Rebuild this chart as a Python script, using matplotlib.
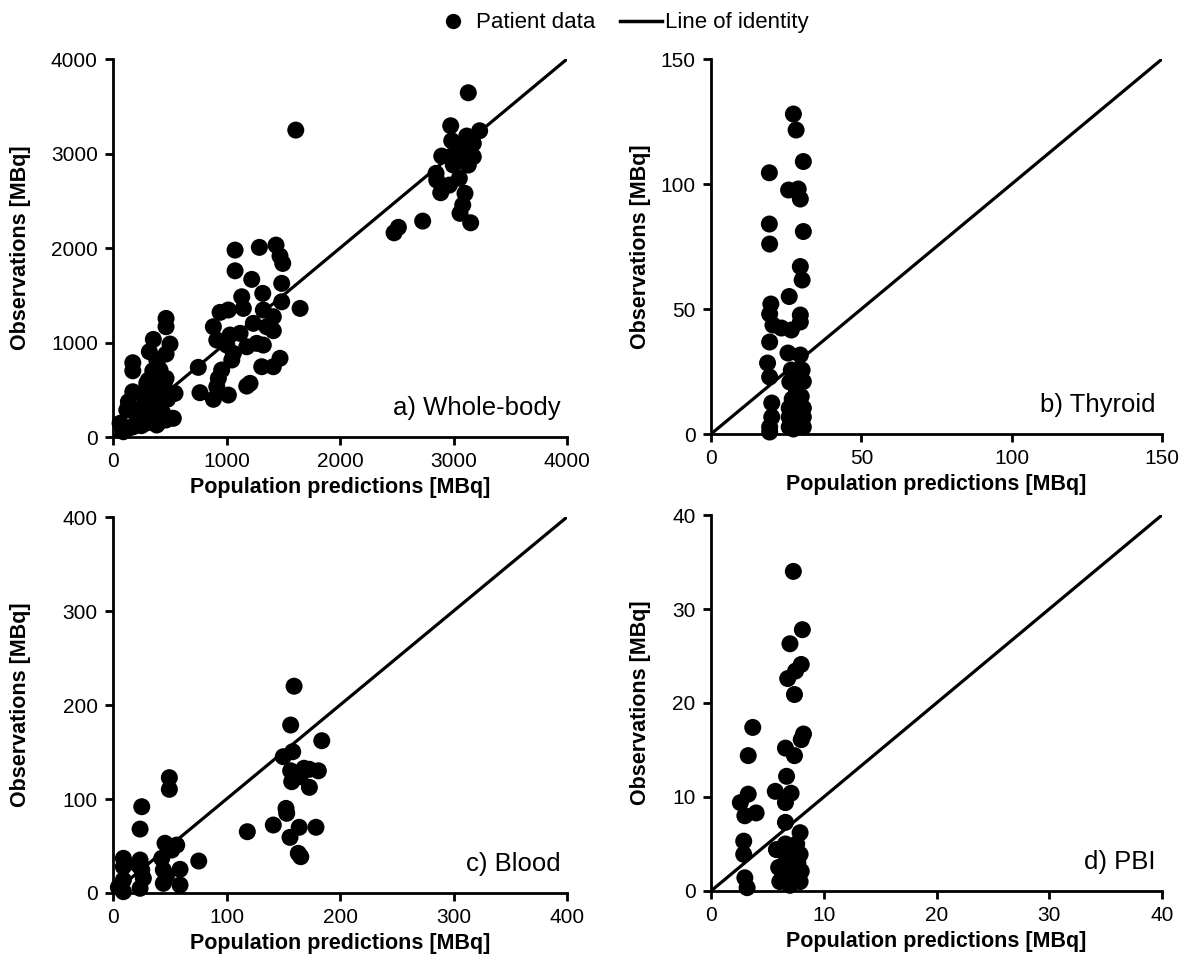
import numpy as np
import matplotlib.pyplot as plt
from matplotlib.lines import Line2D

plt.rcParams['font.family'] = ['Liberation Sans', 'DejaVu Sans']

# Panel a) Whole-body: population predictions vs observations [MBq]
wb_pred = [3130, 1610, 2975, 3230, 2984, 3116, 3174, 3057, 2896, 2969, 3072, 3174, 2998, 3130,
           2846, 2852, 3051, 2963, 2887, 3101, 3081, 3057, 3151, 2728, 2514, 2476,
           1075, 1289, 1436, 1471, 1495, 1075, 1222, 1486, 1319, 1134, 1486, 1648, 943, 1016,
           1148, 1324, 1412, 884, 1236, 1354, 1412, 1031, 1119, 914, 1002, 1178, 1266, 1324,
           1060, 1046, 1471, 1412, 1310, 957, 751, 928, 914, 1178, 1207, 766, 884, 1016,
           467, 467, 355, 502, 320, 467, 174, 174, 385, 414, 297, 174, 467, 341, 546,
           135, 121, 267, 414, 238, 326, 531, 62, 91, 179, 385, 467,
           300, 350, 400, 380, 320, 420, 260, 350, 420, 300, 400, 250, 200, 450, 330, 440,
           280, 360, 230, 150, 480, 390, 310, 430]
wb_obs = [3643, 3248, 3294, 3241, 3135, 3185, 3107, 3054, 2973, 2966, 2966, 2966, 2878, 2878,
          2790, 2719, 2738, 2666, 2585, 2578, 2455, 2367, 2267, 2285, 2219, 2161,
          1978, 2007, 2031, 1915, 1837, 1759, 1668, 1626, 1520, 1484, 1431, 1361, 1319, 1344,
          1361, 1344, 1273, 1167, 1203, 1167, 1125, 1079, 1097, 1026, 973, 955, 991, 973,
          885, 815, 833, 744, 744, 709, 737, 621, 532, 539, 568, 469, 399, 444,
          1255, 1167, 1033, 984, 903, 878, 786, 701, 815, 709, 568, 479, 621, 462, 462,
          373, 286, 321, 286, 215, 180, 198, 145, 56, 109, 127, 180,
          300, 400, 500, 600, 200, 350, 450, 700, 650, 150, 150, 120, 250, 550, 520, 250,
          420, 280, 180, 100, 400, 760, 600, 440]

# Panel b) Thyroid
th_pred = [27.4, 28.3, 30.7, 19.4, 25.8, 29.0, 29.7, 19.4, 19.5, 30.7, 29.7, 30.3, 26.0, 19.9,
           19.5, 29.7, 20.6, 23.4, 26.7, 29.7, 19.5, 25.6, 29.7, 18.8, 19.5, 26.7, 30.3, 26.2,
           30.7, 28.4, 20.2, 26.0, 30.7, 20.2, 26.0, 30.7, 19.5, 26.0, 30.7, 19.5, 27.4,
           27.0, 29.0, 28.0, 30.0, 27.5]
th_obs = [128, 121.6, 109, 104.5, 97.6, 98, 94, 84, 76, 81, 67, 61.6, 55, 52,
          48, 47.6, 43.6, 42.4, 41.6, 44.8, 36.8, 32.4, 31.6, 28.4, 22.8, 25.6, 25.6, 20.8,
          21, 17.6, 12.4, 10.4, 10.4, 6.8, 6.8, 6.8, 2.8, 2.8, 2.8, 0.8, 2.0,
          14.0, 12.0, 24.0, 15.0, 5.0]

# Panel c) Blood
bl_pred = [159.5, 156.5, 183.9, 158.3, 150.0, 156.5, 168.3, 173.0, 180.9, 157.4, 164.7, 173.0,
           152.4, 153.0, 141.2, 164.0, 178.8, 155.9, 163.2, 165.4, 118.3, 75.5,
           49.6, 49.6, 25.3, 23.8, 45.8, 56.1, 51.7, 42.9, 44.3, 59.0, 44.3, 59.0,
           9.1, 9.1, 23.8, 25.3, 26.7, 9.1, 9.1, 23.8, 4.7, 47.0, 22.0]
bl_obs = [220, 178.7, 162, 150.3, 145, 130, 132.7, 131.6, 130, 118.4, 123.7, 112.4,
          90, 84.8, 72.3, 69.9, 69.9, 59.2, 42.2, 38.6, 65.2, 34,
          122.7, 110.3, 91.8, 68, 52.9, 51, 45.7, 36.9, 24.5, 25.2, 10.3, 8.5,
          36.9, 28, 35.1, 24.5, 15.6, 13.8, 1.4, 5, 6, 18, 30]

# Panel d) PBI
pbi_pred = [7.3, 8.1, 7.0, 8.0, 7.5, 6.8, 7.4, 3.7, 8.2, 8.0, 6.6, 7.4, 3.3, 6.7, 5.7, 7.1,
            6.6, 3.3, 2.6, 3.0, 4.0, 6.6, 7.9, 2.9, 2.9, 5.8, 6.6, 7.6, 7.9, 6.7, 6.0, 7.3,
            8.0, 3.0, 3.2, 6.1, 7.0, 7.9, 7.2, 6.8, 7.7]
pbi_obs = [34, 27.8, 26.3, 24.1, 23.4, 22.6, 20.9, 17.4, 16.7, 16.1, 15.2, 14.4, 14.4, 12.2,
           10.6, 10.4, 9.4, 10.3, 9.4, 8.0, 8.3, 7.3, 6.2, 5.3, 3.9, 4.4, 5.0, 5.0, 3.9, 3.5,
           2.5, 2.5, 2.1, 1.4, 0.35, 1.0, 0.6, 1.0, 4.5, 1.8, 3.0]

panels = [
    (wb_pred, wb_obs, 4000, [0, 1000, 2000, 3000, 4000], "a) Whole-body"),
    (th_pred, th_obs, 150, [0, 50, 100, 150], "b) Thyroid"),
    (bl_pred, bl_obs, 400, [0, 100, 200, 300, 400], "c) Blood"),
    (pbi_pred, pbi_obs, 40, [0, 10, 20, 30, 40], "d) PBI"),
]
rects = [
    [0.095, 0.5462, 0.3815, 0.3925],
    [0.5975, 0.5493, 0.379, 0.3894],
    [0.095, 0.0727, 0.3815, 0.3904],
    [0.5975, 0.0748, 0.379, 0.3904],
]
# y-label x position (axes fraction) so left/right columns line up
ylabel_x = [-0.18, -0.133, -0.18, -0.133]

fig = plt.figure(figsize=(11.9, 9.63), dpi=100)

for (xs, ys, lim, ticks, label), rect, lx in zip(panels, rects, ylabel_x):
    ax = fig.add_axes(rect)
    ax.plot([0, lim], [0, lim], color="black", linewidth=2.3, zorder=2)
    ax.scatter(xs, ys, s=150, color="black", edgecolors="none", zorder=3, clip_on=False)
    ax.set_xlim(0, lim)
    ax.set_ylim(0, lim)
    ax.set_xticks(ticks)
    ax.set_yticks(ticks)
    for side in ["top", "right"]:
        ax.spines[side].set_visible(False)
    for side in ["left", "bottom"]:
        ax.spines[side].set_linewidth(2)
    ax.tick_params(direction="out", length=6, width=2, labelsize=15, pad=5)
    ax.set_xlabel("Population predictions [MBq]", fontsize=15.5, fontweight="bold", labelpad=4)
    ax.set_ylabel("Observations [MBq]", fontsize=15.5, fontweight="bold")
    ax.yaxis.set_label_coords(lx, 0.5)
    ax.text(0.985, 0.045, label, transform=ax.transAxes, ha="right", va="bottom", fontsize=18.5)

handles = [
    Line2D([], [], marker="o", linestyle="none", color="black", markersize=10),
    Line2D([], [], color="black", linewidth=2.5),
]
fig.legend(handles, ["Patient data", "Line of identity"], loc="upper center",
           bbox_to_anchor=(0.521, 1.008), ncol=2, frameon=False, fontsize=16,
           handlelength=1.9, handletextpad=0.1, columnspacing=1.1)

fig.savefig("out.png", dpi=100)
